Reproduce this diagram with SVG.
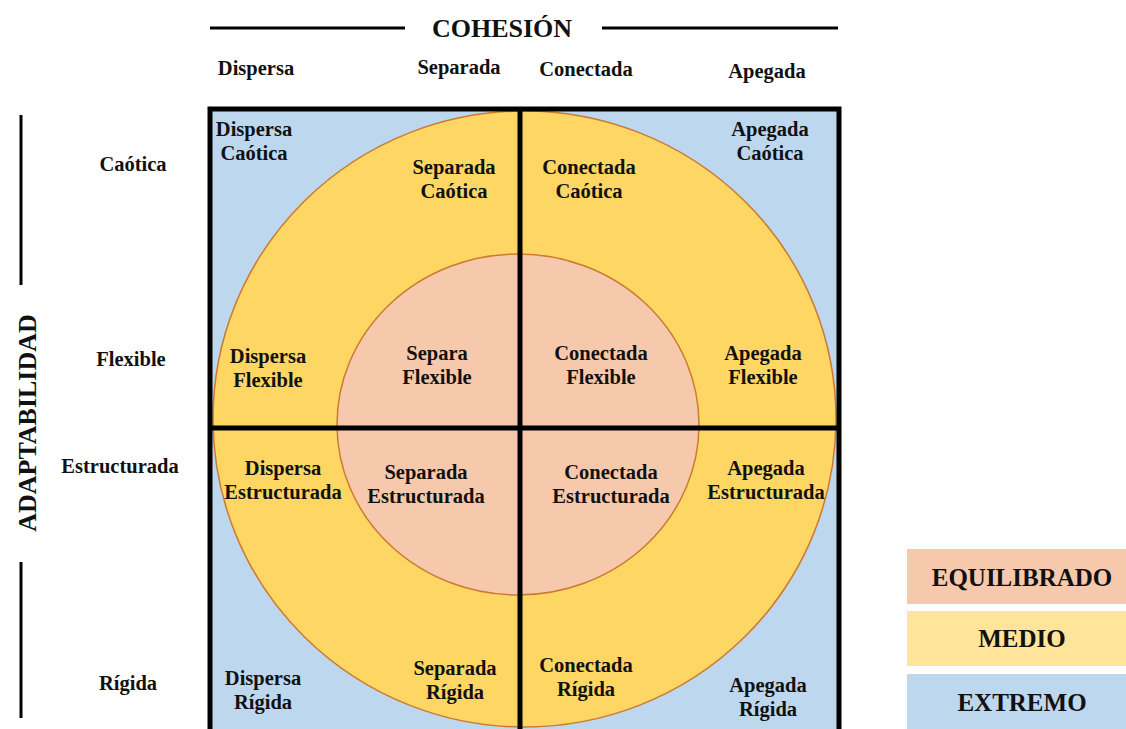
<svg xmlns="http://www.w3.org/2000/svg" width="1126" height="729" viewBox="0 0 1126 729">
<style>
text{font-family:"Liberation Serif","Times New Roman",serif;font-weight:bold;fill:#111;text-anchor:middle}
.cell{font-size:20.5px}
.hdr{font-size:20.5px}
.title{font-size:26px}
.leg{font-size:25px}
.ax{stroke:#000;stroke-width:3;fill:none}
.grid{stroke:#000;stroke-width:5;fill:none}
</style>
<rect width="1126" height="729" fill="#fff"/>
<g id="axes">
<line class="ax" x1="210" y1="28" x2="405" y2="28"/>
<line class="ax" x1="602" y1="28" x2="838" y2="28"/>
<line class="ax" x1="21" y1="115" x2="21" y2="285"/>
<line class="ax" x1="21" y1="562" x2="21" y2="718"/>
</g>
<g id="titles">
<text class="title" x="502" y="37">COHESIÓN</text>
<text class="title" transform="translate(36,423) rotate(-90)">ADAPTABILIDAD</text>
</g>
<g id="col-headers">
<text class="hdr" x="256" y="75">Dispersa</text>
<text class="hdr" x="459" y="74">Separada</text>
<text class="hdr" x="586" y="76">Conectada</text>
<text class="hdr" x="767" y="78">Apegada</text>
</g>
<g id="row-headers">
<text class="hdr" x="133" y="171">Caótica</text>
<text class="hdr" x="131" y="366">Flexible</text>
<text class="hdr" x="120" y="473">Estructurada</text>
<text class="hdr" x="128" y="690">Rígida</text>
</g>
<g id="extremo-area">
<rect x="210" y="109" width="629" height="640" fill="#BDD7EE"/>
</g>
<g id="medio-ring">
<ellipse cx="524.5" cy="419" rx="311.5" ry="308" fill="#FDD663" stroke="#CC7A33" stroke-width="1.5"/>
</g>
<g id="equilibrado-core">
<ellipse cx="518" cy="424.5" rx="181" ry="170.5" fill="#F7C9AC" stroke="#CC7A33" stroke-width="1.5"/>
</g>
<g id="grid">
<rect class="grid" x="210" y="109" width="629" height="640"/>
<line class="grid" x1="520" y1="109" x2="520" y2="729"/>
<line class="grid" x1="210" y1="428" x2="839" y2="428" stroke-width="6"/>
</g>
<g id="cell-dispersa-caotica"><text class="cell" x="254" y="136">Dispersa</text><text class="cell" x="254" y="160">Caótica</text></g>
<g id="cell-separada-caotica"><text class="cell" x="454" y="174">Separada</text><text class="cell" x="454" y="198">Caótica</text></g>
<g id="cell-conectada-caotica"><text class="cell" x="589" y="174">Conectada</text><text class="cell" x="589" y="198">Caótica</text></g>
<g id="cell-apegada-caotica"><text class="cell" x="770" y="136">Apegada</text><text class="cell" x="770" y="160">Caótica</text></g>
<g id="cell-dispersa-flexible"><text class="cell" x="268" y="363">Dispersa</text><text class="cell" x="268" y="387">Flexible</text></g>
<g id="cell-separa-flexible"><text class="cell" x="437" y="360">Separa</text><text class="cell" x="437" y="384">Flexible</text></g>
<g id="cell-conectada-flexible"><text class="cell" x="601" y="360">Conectada</text><text class="cell" x="601" y="384">Flexible</text></g>
<g id="cell-apegada-flexible"><text class="cell" x="763" y="360">Apegada</text><text class="cell" x="763" y="384">Flexible</text></g>
<g id="cell-dispersa-estructurada"><text class="cell" x="283" y="475">Dispersa</text><text class="cell" x="283" y="499">Estructurada</text></g>
<g id="cell-separada-estructurada"><text class="cell" x="426" y="479">Separada</text><text class="cell" x="426" y="503">Estructurada</text></g>
<g id="cell-conectada-estructurada"><text class="cell" x="611" y="479">Conectada</text><text class="cell" x="611" y="503">Estructurada</text></g>
<g id="cell-apegada-estructurada"><text class="cell" x="766" y="475">Apegada</text><text class="cell" x="766" y="499">Estructurada</text></g>
<g id="cell-dispersa-rigida"><text class="cell" x="263" y="685">Dispersa</text><text class="cell" x="263" y="709">Rígida</text></g>
<g id="cell-separada-rigida"><text class="cell" x="455" y="675">Separada</text><text class="cell" x="455" y="699">Rígida</text></g>
<g id="cell-conectada-rigida"><text class="cell" x="586" y="672">Conectada</text><text class="cell" x="586" y="696">Rígida</text></g>
<g id="cell-apegada-rigida"><text class="cell" x="768" y="692">Apegada</text><text class="cell" x="768" y="716">Rígida</text></g>
<g id="legend-equilibrado"><rect x="907" y="549" width="219" height="55" fill="#F7C9AC"/><text class="leg" x="1022" y="586">EQUILIBRADO</text></g>
<g id="legend-medio"><rect x="907" y="611" width="219" height="55" fill="#FFE499"/><text class="leg" x="1022" y="647">MEDIO</text></g>
<g id="legend-extremo"><rect x="907" y="674" width="219" height="55" fill="#BDD7EE"/><text class="leg" x="1022" y="711">EXTREMO</text></g>
</svg>
